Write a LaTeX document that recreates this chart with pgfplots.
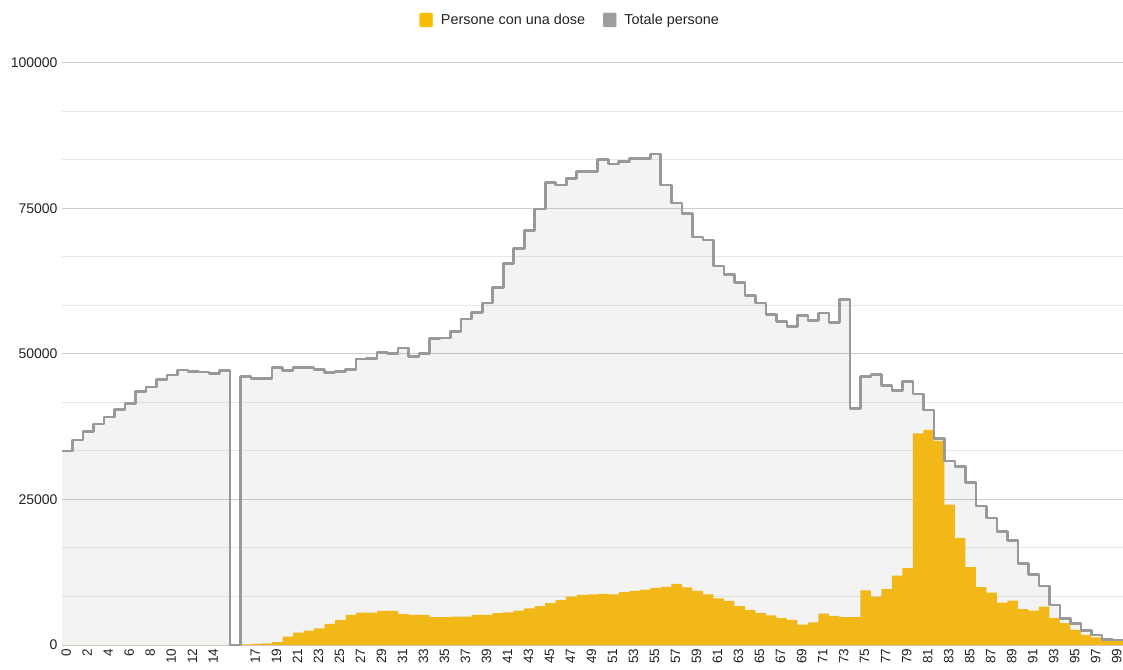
\documentclass[border=0pt]{standalone}
\usepackage{pgfplots}
\usepackage{pgfplotstable}
\usepackage{fontspec}
\setmainfont{Liberation Sans}
\pgfplotsset{compat=1.18}
\definecolor{cyellow}{HTML}{F2B817}
\definecolor{cyellowleg}{HTML}{FBBC04}
\definecolor{cgrayline}{HTML}{999999}
\definecolor{cgrayleg}{HTML}{9E9E9E}
\definecolor{ctext}{HTML}{222222}

\pgfplotstableread{
idx gray yel
0 33300 0
1 35200 0
2 36650 0
3 37970 0
4 39170 0
5 40500 0
6 41530 0
7 43530 0
8 44330 0
9 45650 0
10 46390 0
11 47250 0
12 46960 0
13 46900 0
14 46680 0
15 47200 0
16 0 0
17 46100 100
18 45820 200
19 45820 300
20 47700 500
21 47140 1440
22 47700 2130
23 47700 2470
24 47370 2870
25 46790 3620
26 47020 4310
27 47370 5170
28 49140 5570
29 49200 5570
30 50230 5860
31 50110 5860
32 51030 5340
33 49540 5170
34 50110 5170
35 52640 4770
36 52760 4770
37 53910 4880
38 56030 4880
39 57180 5170
40 58790 5170
41 61380 5460
42 65570 5600
43 68100 5900
44 71260 6300
45 74880 6700
46 79480 7200
47 79020 7700
48 80170 8300
49 81320 8600
50 81320 8700
51 83390 8800
52 82640 8700
53 83050 9100
54 83620 9300
55 83620 9500
56 84370 9800
57 79020 10000
58 75920 10500
59 74190 9900
60 70110 9300
61 69600 8700
62 65110 8000
63 63680 7600
64 62240 6700
65 60060 6000
66 58790 5500
67 56780 5100
68 55630 4600
69 54770 4300
70 56610 3500
71 55750 3900
72 57070 5400
73 55460 5000
74 59370 4800
75 40600 4770
76 46150 9370
77 46500 8330
78 44540 9600
79 43680 11900
80 45230 13220
81 43100 36380
82 40400 36950
83 35460 35060
84 31610 24140
85 30630 18390
86 27870 13390
87 23850 9940
88 21840 9020
89 19540 7300
90 17990 7640
91 13970 6150
92 12070 5920
93 10170 6610
94 6900 4600
95 4600 3740
96 3740 2590
97 2470 1720
98 1720 1320
99 980 980
100 860 860
101 860 860
}\data

\begin{document}
\begin{tikzpicture}
\path[use as bounding box] (0pt,0pt) rectangle (1123pt,669pt);
\begin{axis}[
  at={(62pt,24pt)}, anchor=south west,
  scale only axis, width=1061pt, height=582pt,
  xmin=-0.5, xmax=100.5, ymin=0, ymax=100000,
  axis line style={draw=none},
  major tick length=0pt, minor tick length=0pt,
  ytick={0,25000,50000,75000,100000},
  minor y tick num=2,
  ymajorgrids, yminorgrids,
  major grid style={draw=black!20, line width=1pt},
  minor grid style={draw=black!9, line width=1pt},
  extra y ticks={0}, extra y tick labels={},
  extra y tick style={grid style={draw=cgrayline, line width=1.2pt}},
  scaled y ticks=false,
  /pgf/number format/fixed,
  /pgf/number format/1000 sep={},
  /pgf/number format/assume math mode=true,
  yticklabel style={font=\fontsize{14}{16}\selectfont, text=ctext, xshift=-1pt},
  xtick={0,2,...,100},
  xticklabels={0,2,4,6,8,10,12,14,{},17,19,21,23,25,27,29,31,33,35,37,39,41,43,45,47,49,51,53,55,57,59,61,63,65,67,69,71,73,75,77,79,81,83,85,87,89,91,93,95,97,99},
  xticklabel style={rotate=90, anchor=east, font=\fontsize{13.5}{15}\selectfont, text=ctext, yshift=1pt},
  legend columns=2,
  legend style={at={(0.479,1.0739)}, anchor=center, draw=none, fill=none,
    font=\fontsize{14.4}{16}\selectfont, text=ctext,
    /tikz/every even column/.append style={column sep=16pt}},
  legend cell align=left,
]
\addplot[fill=cgrayline, fill opacity=0.12, draw=none, const plot, forget plot] table[x expr=\thisrow{idx}-0.5, y=gray]{\data} \closedcycle;
\addplot[fill=cyellow, draw=none, const plot, forget plot] table[x expr=\thisrow{idx}-0.5, y=yel]{\data} \closedcycle;
\addplot[draw=cgrayline, line width=2.6pt, line join=round, const plot, forget plot] table[x expr=\thisrow{idx}-0.5, y=gray]{\data};
\addlegendimage{legend image code/.code={\fill[cyellowleg, rounded corners=1pt] (0pt,-7pt) rectangle (13pt,7pt); \path (19pt,0pt);}}
\addlegendentry{Persone con una dose}
\addlegendimage{legend image code/.code={\fill[cgrayleg, rounded corners=1pt] (0pt,-7pt) rectangle (13pt,7pt); \path (19pt,0pt);}}
\addlegendentry{Totale persone}
\end{axis}
\end{tikzpicture}
\end{document}
